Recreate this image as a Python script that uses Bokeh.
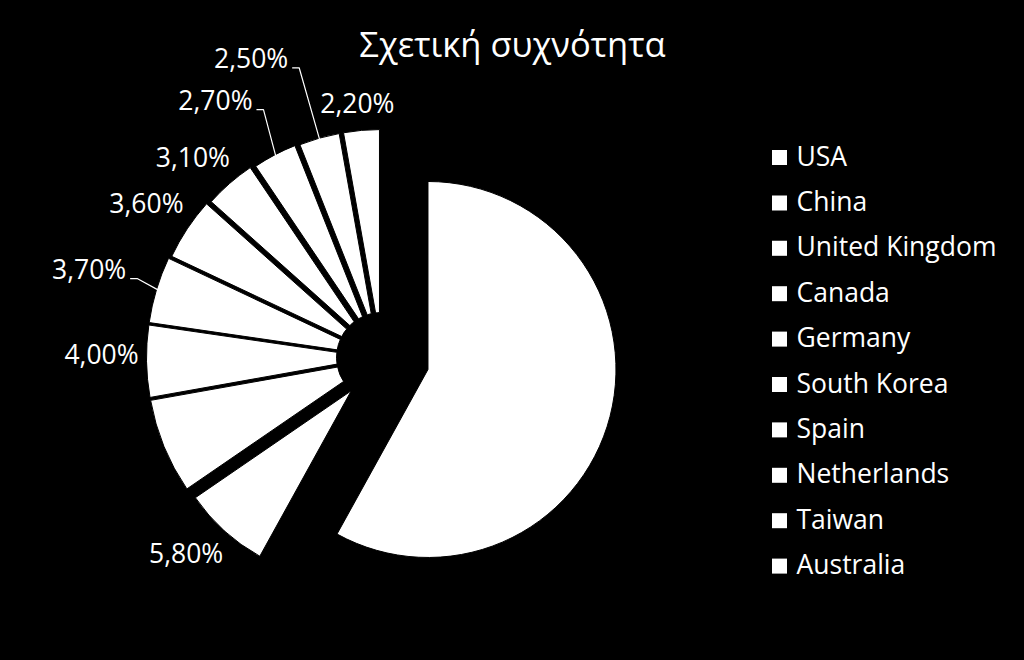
import numpy as np
from bokeh.plotting import figure
from bokeh.models import Range1d, ColumnDataSource
from bokeh.core.properties import value
from bokeh.embed import file_html
from bokeh.resources import INLINE

# ---------------- data ----------------
countries = ["USA", "China", "United Kingdom", "Canada", "Germany",
             "South Korea", "Spain", "Netherlands", "Taiwan", "Australia"]
shares = [45.5, 5.8, 5.3, 4.0, 3.7, 3.6, 3.1, 2.7, 2.5, 2.2]
show_label = [False, True, False, True, True, True, True, True, True, True]
title_text = "Σχετική συχνότητα"

# ---------------- layout / style ----------------
W, H = 1008, 644
CX, CY = 381, 660 - 357          # pie centre (y measured upward)
explode = [48, 45, 8, 8, 8, 14, 22, 24, 24, 23]
reach = [236, 234, 235, 235, 235, 233, 231, 229, 228, 228]
tip = 45
label_r = [0, 278, 0, 280, 305, 280, 274, 305, 325, 254]
label_dt = [0, 2.4, 0, 1.3, -0.2, -0.6, -2.4, -5.2, -7.8, -0.4]
leader = [False, False, False, False, True, False, False, True, True, False]
FONT = "Open Sans"
BASE = 2   # baseline offset relative to the cap centre (upward coordinates)

vals = np.array(shares, dtype=float)
frac = vals / vals.sum()
cw_end = np.cumsum(frac) * 360.0
cw_start = cw_end - frac * 360.0
bis = (cw_start + cw_end) / 2.0
ex = np.array(explode, dtype=float)
rc = np.array(reach, dtype=float)


def sx(theta):
    return np.sin(np.radians(theta))


def cy(theta):
    return np.cos(np.radians(theta))


wedges = ColumnDataSource(dict(
    x=CX + ex * sx(bis),
    y=CY + ex * cy(bis),
    inner=np.maximum(tip - ex, 0.0),
    outer=rc - ex,
    start=np.radians(90.0 - cw_end),
    end=np.radians(90.0 - cw_start),
    country=countries,
))

p = figure(width=W, height=H, x_range=Range1d(8, 8 + W), y_range=Range1d(8, 8 + H),
           output_backend="svg", toolbar_location=None,
           x_axis_type=None, y_axis_type=None,
           background_fill_color="black", border_fill_color="black",
           min_border=0, min_border_left=0, min_border_right=0,
           min_border_top=0, min_border_bottom=0)
p.grid.visible = False
p.outline_line_color = None

p.annular_wedge(x="x", y="y", inner_radius="inner", outer_radius="outer",
                start_angle="start", end_angle="end", direction="anticlock",
                fill_color="white", line_color="black", line_width=1,
                source=wedges)

# data labels
lab_x, lab_y, lab_t = [], [], []
lead_xs, lead_ys = [], []
for i, v in enumerate(shares):
    if not show_label[i]:
        continue
    th = bis[i] + label_dt[i]
    lx = CX + label_r[i] * sx(th)
    ly = CY + label_r[i] * cy(th)
    lab_x.append(lx)
    lab_y.append(ly + BASE)
    lab_t.append(f"{v:.2f}".replace(".", ",") + "%")
    if leader[i]:
        ex_ = CX + (rc[i] - 3) * sx(bis[i])
        ey_ = CY + (rc[i] - 3) * cy(bis[i])
        lead_xs.append([lx + 41, lx + 48, ex_])
        lead_ys.append([ly - 8, ly - 8, ey_])

p.multi_line(xs=lead_xs, ys=lead_ys, line_color="white", line_width=1.2)
p.text(x=lab_x, y=lab_y, text=lab_t, text_color="white",
       text_font=value(FONT), text_font_size="26.5px",
       text_align="center", text_baseline="alphabetic")

# title
p.text(x=[512], y=[660 - 45 + BASE], text=[title_text], text_color="white",
       text_font=value("Open Sans"), text_font_size="34.5px",
       text_align="center", text_baseline="alphabetic")

# legend
row_y = np.array([660 - (157 + i * 45.4) for i in range(len(countries))])
p.scatter(x=[779] * len(countries), y=row_y, marker="square", size=15,
          fill_color="white", line_color=None)
p.text(x=[796] * len(countries), y=row_y + BASE, text=countries, text_color="white",
       text_font=value(FONT), text_font_size="26.5px",
       text_align="left", text_baseline="alphabetic")

html = file_html(p, INLINE)
html = html.replace("</head>", "<style>html,body{background:#000;margin:0;}body{margin:8px;}</style></head>", 1)
open("out.html", "w").write(html)
